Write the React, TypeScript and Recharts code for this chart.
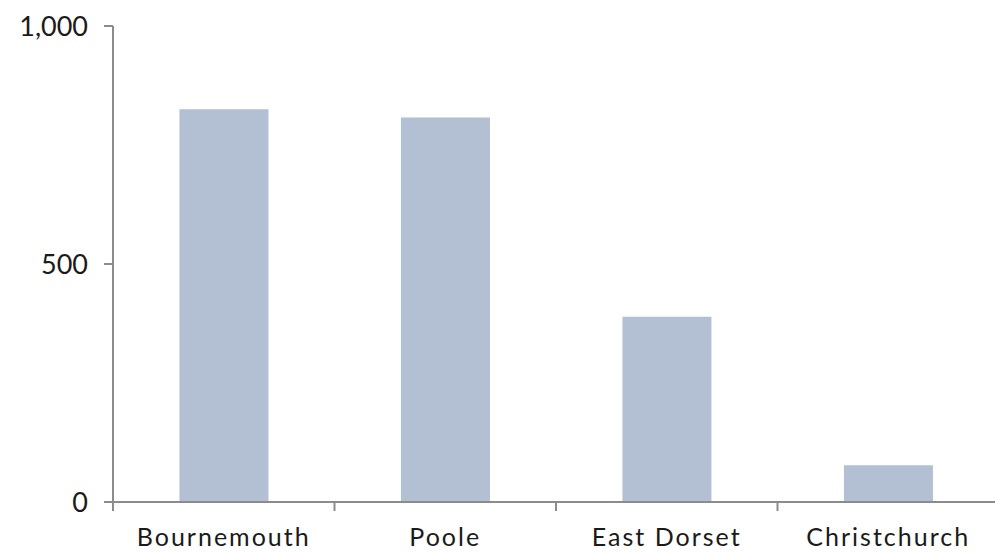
import React from "react";
import { BarChart, Bar, XAxis, YAxis } from "recharts";

const categories = ["Bournemouth", "Poole", "East Dorset", "Christchurch"];
const values = [825, 808, 389, 77];
const yTicks = [0, 500, 1000];

const data = categories.map((name, i) => ({ name, value: values[i] }));

const AXIS = "#8c8c8c";
const TEXT = "#1a1a1a";
const FONT = "Lato, 'DejaVu Sans', sans-serif";

const XTick = (props: any) => {
  const { x, y, payload } = props;
  const off = payload && typeof payload.offset === "number" ? payload.offset : 110.9;
  return (
    <g>
      <line x1={x - off} x2={x - off} y1={y} y2={y + 9} stroke={AXIS} strokeWidth={2} />
      <text
        x={x}
        y={y + 26}
        dy="0.71em"
        textAnchor="middle"
        fill={TEXT}
        fontSize={25}
        fontFamily={FONT}
        letterSpacing={2}
      >
        {payload.value}
      </text>
    </g>
  );
};

export default function App() {
  return (
    <div style={{ position: "absolute", left: 0, top: 0, width: 995, height: 552, overflow: "hidden", background: "#fff" }}>
      <BarChart width={1000} height={552} data={data} margin={{ top: 26, right: 1, bottom: 0, left: 0 }} barCategoryGap="30%">
        <XAxis
          dataKey="name"
          height={50}
          axisLine={{ stroke: AXIS, strokeWidth: 2 }}
          tickLine={false}
          tickSize={0}
          tickMargin={0}
          tick={<XTick />}
          interval={0}
        />
        <YAxis
          width={113}
          domain={[0, 1000]}
          ticks={yTicks}
          interval={0}
          tickFormatter={(v: number) => v.toLocaleString("en-US")}
          axisLine={{ stroke: AXIS, strokeWidth: 2 }}
          tickLine={{ stroke: AXIS, strokeWidth: 2 }}
          tickSize={9}
          tickMargin={16}
          tick={{ fill: TEXT, fontSize: 27, fontFamily: FONT }}
        />
        <Bar dataKey="value" fill="#b3bfd3" isAnimationActive={false} />
      </BarChart>
    </div>
  );
}
